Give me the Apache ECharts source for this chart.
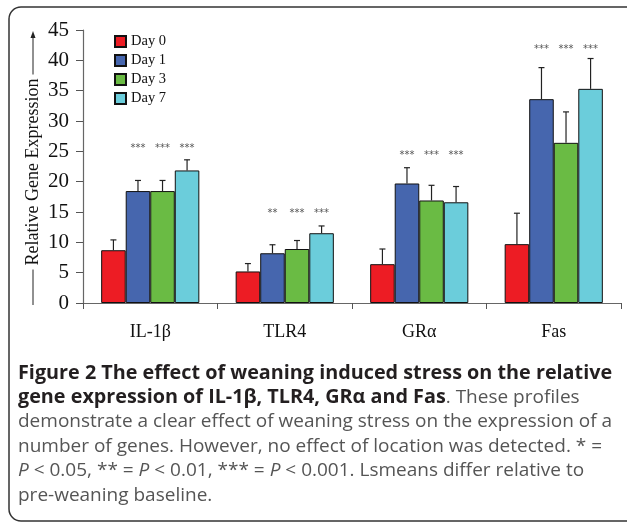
<!DOCTYPE html>
<html>
<head>
<meta charset="utf-8">
<script src="https://cdn.jsdelivr.net/npm/echarts@6/dist/echarts.min.js"></script>
<style>
  html, body { margin: 0; padding: 0; background: #fff; }
  #chart { width: 627px; height: 524px; }
</style>
</head>
<body>
<div id="chart"></div>
<script>
const genes = ["IL-1β", "TLR4", "GRα", "Fas"];
const days = ["Day 0", "Day 1", "Day 3", "Day 7"];
const colores = ["#ED1C24", "#4666AE", "#6ABB44", "#6BCDDB"];

// medias por dia (una entrada por gen)
const day0 = [8.7, 5.2, 6.4, 9.7];
const day1 = [18.45, 8.2, 19.7, 33.6];
const day3 = [18.45, 8.9, 16.9, 26.4];
const day7 = [21.85, 11.5, 16.6, 35.3];

// error estandar (parte superior)
const err0 = [1.7, 1.3, 2.5, 5.1];
const err1 = [1.75, 1.4, 2.6, 5.2];
const err3 = [1.75, 1.4, 2.5, 5.1];
const err7 = [1.75, 1.2, 2.6, 5.0];

// significancia y altura de los asteriscos por gen
const sig0 = ["", "", "", ""];
const sig1 = ["***", "**", "***", "***"];
const sig3 = ["***", "***", "***", "***"];
const sig7 = ["***", "***", "***", "***"];
const alturaSig = [25.5, 14.8, 24.3, 41.8];

const yTicks = [0, 45, 5]; // min, max, intervalo

const medias = [day0, day1, day3, day7];
const errores = [err0, err1, err3, err7];
const sigs = [sig0, sig1, sig3, sig7];
const GAP = 0.27;

const chart = echarts.init(document.getElementById("chart"));

const series = [];
days.forEach((d, i) => {
  series.push({
    name: d,
    type: "bar",
    data: medias[i],
    barGap: "0%",
    barCategoryGap: GAP * 100 + "%",
    itemStyle: { color: colores[i], borderColor: "#111", borderWidth: 1 },
    emphasis: { disabled: true },
  });
});

// barras de error y asteriscos
days.forEach((d, i) => {
  series.push({
    type: "custom",
    name: "err" + i,
    data: genes.map((g, k) => [k, medias[i][k], errores[i][k], alturaSig[k]]),
    encode: { x: 0, y: 1 },
    z: 5,
    renderItem: (params, api) => {
      const k = api.value(0);
      const band = api.size([1, 0])[0];
      const bw = (band * (1 - GAP)) / 4;
      const base = api.coord([k, api.value(1)]);
      const x = base[0] + (i - 1.5) * bw;
      const top = api.coord([k, api.value(1) + api.value(2)])[1];
      const sy = api.coord([k, api.value(3)])[1];
      const children = [
        { type: "line", shape: { x1: x, y1: base[1], x2: x, y2: top }, style: { stroke: "#222", lineWidth: 1.2 } },
        { type: "line", shape: { x1: x - 3, y1: top, x2: x + 3, y2: top }, style: { stroke: "#222", lineWidth: 1.2 } },
      ];
      const s = sigs[i][k];
      if (s) {
        children.push({
          type: "text",
          style: { x: x, y: sy, text: s, fill: "#555", font: "10px 'DejaVu Sans'", align: "center", verticalAlign: "middle" },
        });
      }
      return { type: "group", children };
    },
  });
});

chart.setOption({
  animation: false,
  grid: { left: 83, right: 6, top: 30, bottom: 221 },
  legend: {
    data: days,
    orient: "vertical",
    left: 109,
    top: 29,
    itemWidth: 11,
    itemHeight: 11,
    itemGap: 4,
    icon: "rect",
    textStyle: { fontFamily: "Liberation Serif", fontSize: 14.5, color: "#111" },
  },
  xAxis: {
    type: "category",
    data: genes,
    axisLine: { lineStyle: { color: "#666", width: 1.2 } },
    axisTick: { show: true, length: 6, lineStyle: { color: "#555" } },
    axisLabel: { fontFamily: "Liberation Serif", fontSize: 18, color: "#111", margin: 20 },
  },
  yAxis: {
    type: "value",
    min: yTicks[0],
    max: yTicks[1],
    interval: yTicks[2],
    splitLine: { show: false },
    axisLine: { show: true, lineStyle: { color: "#666", width: 1.2 } },
    axisTick: { show: true, length: 7, lineStyle: { color: "#555" } },
    axisLabel: { fontFamily: "Liberation Serif", fontSize: 21, color: "#111", margin: 14 },
  },
  graphic: [
    {
      type: "rect",
      shape: { x: 9, y: 7, width: 640, height: 514, r: 12 },
      style: { fill: null, stroke: "#333", lineWidth: 1.5 },
      z: 0,
    },
    {
      type: "line",
      shape: { x1: 33, y1: 305, x2: 33, y2: 36 },
      style: { stroke: "#222", lineWidth: 1 },
    },
    {
      type: "polygon",
      shape: { points: [[33, 31], [30.5, 38], [35.5, 38]] },
      style: { fill: "#222" },
    },
    {
      type: "text",
      x: 33,
      y: 172,
      rotation: Math.PI / 2,
      style: {
        text: "Relative Gene Expression",
        font: "18px 'Liberation Serif'",
        fill: "#111",
        align: "center",
        verticalAlign: "middle",
        backgroundColor: "#fff",
        padding: [0, 4],
      },
    },
    {
      type: "text",
      left: 18,
      top: 363,
      style: {
        text: [
          "{b|Figure 2 The effect of weaning induced stress on the relative}",
          "{b|gene expression of IL-1β, TLR4, GRα and Fas}{n|. These profiles}",
          "{n|demonstrate a clear effect of weaning stress on the expression of a}",
          "{n|number of genes. However, no effect of location was detected. * =}",
          "{i|P}{n| < 0.05, ** = }{i|P}{n| < 0.01, *** = }{i|P}{n| < 0.001. Lsmeans differ relative to}",
          "{n|pre-weaning baseline.}",
        ].join("\n"),
        rich: {
          b: { fontFamily: "Open Sans", fontWeight: "bold", fontSize: 19.8, fill: "#231f20", lineHeight: 24.5 },
          n: { fontFamily: "Open Sans", fontSize: 19, fill: "#555", lineHeight: 24.5 },
          i: { fontFamily: "Open Sans", fontStyle: "italic", fontSize: 19, fill: "#555", lineHeight: 24.5 },
        },
      },
    },
  ],
  series,
});
</script>
</body>
</html>
